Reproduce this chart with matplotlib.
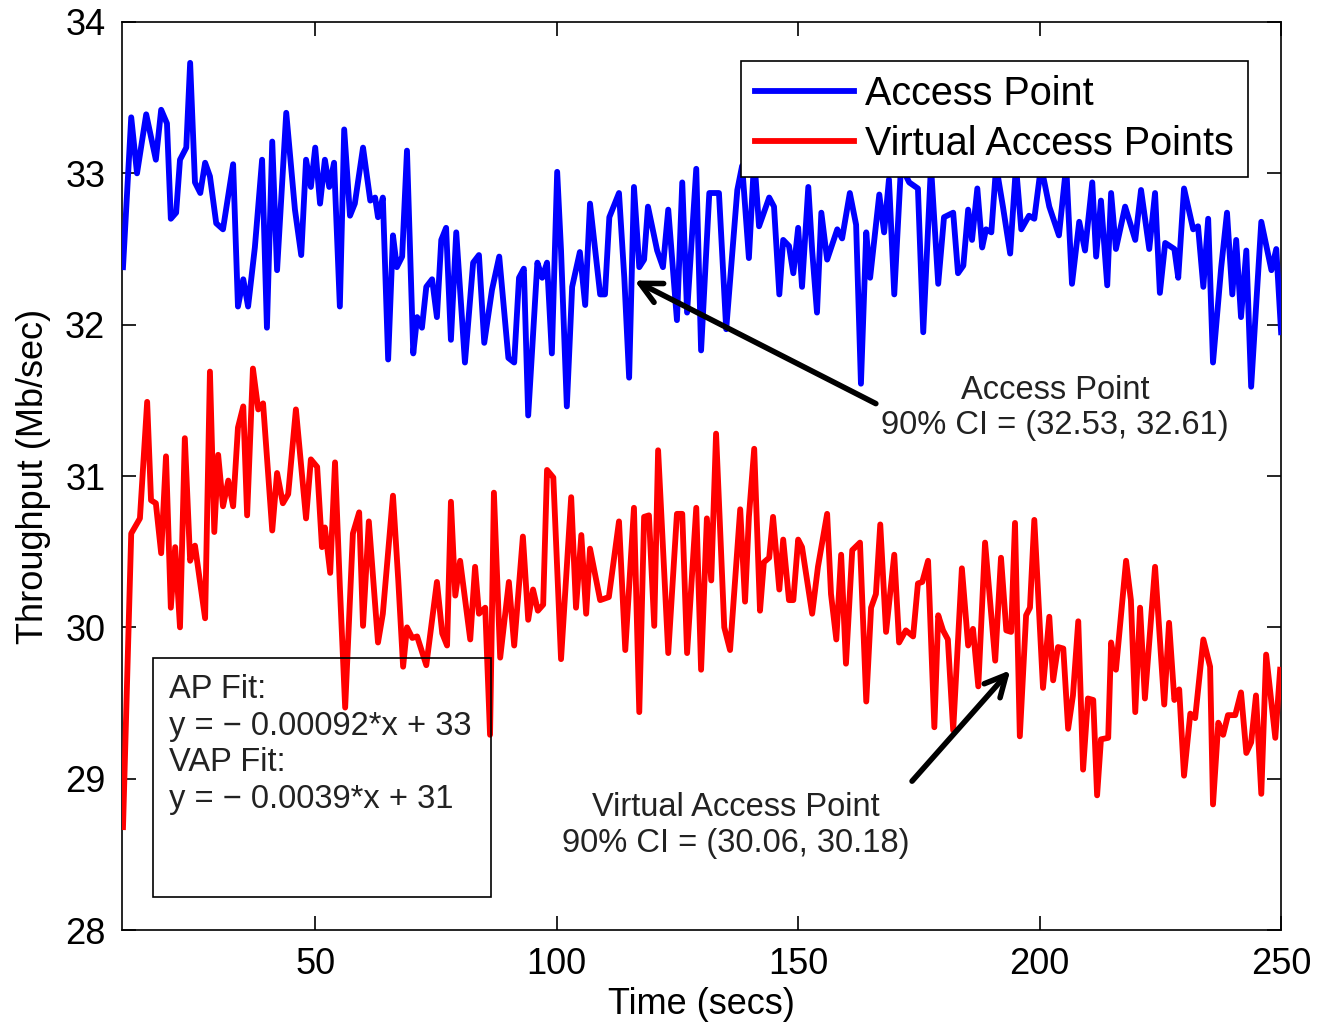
import numpy as np
import matplotlib
matplotlib.use('Agg')
import matplotlib.pyplot as plt
from matplotlib.patches import Rectangle

plt.rcParams['font.family'] = ['Liberation Sans', 'DejaVu Sans']

# Access Point throughput (time in secs, Mb/sec)
ap_t = [10.2, 11.9, 13.1, 15.0, 17.0, 18.1, 19.3, 20.1, 21.2, 22.0, 23.3, 24.1, 25.1, 26.2, 27.2, 28.2,
        29.5, 30.9, 33.0, 34.0, 35.1, 36.1, 37.5, 39.0, 40.0, 41.1, 42.1, 44.0, 45.8, 47.1, 48.1, 49.1,
        50.0, 51.0, 52.0, 52.9, 53.9, 55.1, 56.0, 57.2, 58.2, 59.9, 61.4, 62.4, 63.0, 64.0, 65.1, 66.1,
        66.9, 68.0, 69.0, 70.3, 71.1, 72.1, 73.0, 74.2, 75.2, 76.1, 77.1, 78.1, 79.2, 81.0, 82.7, 83.9,
        85.0, 86.6, 88.1, 90.0, 91.2, 92.2, 93.2, 94.1, 96.0, 97.0, 98.0, 99.0, 100.1, 100.9, 102.1, 103.2,
        104.8, 105.9, 106.9, 109.0, 110.0, 110.9, 112.9, 114.0, 115.0, 116.0, 117.1, 118.1, 118.9, 120.8,
        122.0, 123.1, 124.9, 126.0, 127.0, 128.9, 129.9, 131.6, 133.6, 135.1, 137.4, 138.4, 139.8, 140.9,
        141.9, 144.0, 145.0, 146.1, 146.9, 148.1, 149.0, 150.0, 150.8, 152.1, 152.9, 153.9, 154.8, 156.0,
        158.1, 159.1, 160.7, 162.0, 163.0, 164.1, 164.9, 166.8, 167.8, 168.8, 169.9, 171.3, 173.0, 174.8,
        175.9, 177.5, 179.0, 180.2, 182.1, 183.1, 184.2, 185.2, 186.0, 187.1, 188.1, 188.9, 190.0, 191.0,
        192.4, 193.9, 195.1, 196.2, 197.8, 198.9, 200.3, 202.0, 204.0, 205.5, 206.7, 208.2, 209.4, 210.9,
        211.7, 212.7, 214.0, 214.8, 215.8, 217.7, 219.8, 221.0, 222.7, 223.9, 224.9, 226.0, 227.9, 228.7,
        229.9, 231.8, 232.8, 233.9, 234.9, 235.9, 237.6, 238.8, 239.9, 240.7, 241.7, 242.8, 243.8, 245.9,
        248.0, 249.0, 250.0]
ap_y = [32.38, 33.37, 33.00, 33.39, 33.09, 33.42, 33.33, 32.70, 32.74, 33.09, 33.17, 33.73, 32.94, 32.87, 33.07, 32.98,
        32.67, 32.63, 33.06, 32.12, 32.30, 32.12, 32.51, 33.09, 31.98, 33.21, 32.36, 33.40, 32.76, 32.46, 33.09, 32.91,
        33.17, 32.80, 33.09, 32.91, 33.07, 32.12, 33.29, 32.72, 32.80, 33.17, 32.82, 32.84, 32.71, 32.84, 31.77, 32.59,
        32.38, 32.45, 33.15, 31.81, 32.05, 31.98, 32.25, 32.30, 32.05, 32.56, 32.64, 31.90, 32.61, 31.75, 32.41, 32.46,
        31.88, 32.23, 32.45, 31.78, 31.75, 32.31, 32.37, 31.40, 32.41, 32.31, 32.41, 31.81, 33.01, 32.49, 31.46, 32.25,
        32.48, 32.13, 32.80, 32.20, 32.20, 32.71, 32.87, 32.31, 31.65, 32.91, 32.38, 32.43, 32.78, 32.49,
        32.38, 32.76, 32.03, 32.94, 32.08, 33.03, 31.83, 32.87, 32.87, 31.97, 32.89, 33.05, 32.44, 33.10,
        32.65, 32.84, 32.78, 32.20, 32.56, 32.52, 32.34, 32.64, 32.25, 32.91, 32.49, 32.08, 32.74, 32.43,
        32.63, 32.57, 32.87, 32.66, 31.61, 32.61, 32.31, 32.86, 32.61, 32.96, 32.20, 33.05, 32.94, 32.90,
        31.95, 33.05, 32.27, 32.71, 32.74, 32.34, 32.39, 32.76, 32.56, 32.90, 32.51, 32.63, 32.61, 33.05,
        32.78, 32.47, 33.05, 32.63, 32.72, 32.70, 33.05, 32.78, 32.59, 33.05, 32.27, 32.68, 32.49, 32.94,
        32.45, 32.82, 32.26, 32.87, 32.50, 32.78, 32.56, 32.89, 32.50, 32.87, 32.21, 32.54, 32.50, 32.31,
        32.90, 32.63, 32.65, 32.25, 32.70, 31.75, 32.38, 32.74, 32.20, 32.56, 32.05, 32.49, 31.59, 32.68,
        32.36, 32.50, 31.95]

# Virtual Access Points throughput
vap_t = [10.2, 11.9, 13.7, 15.2, 16.0, 17.0, 18.1, 19.1, 20.1, 21.0, 22.0, 23.0, 24.1, 25.1, 27.2, 28.2,
         29.1, 29.9, 30.9, 32.0, 33.0, 34.0, 35.1, 35.9, 37.1, 38.2, 39.2, 41.1, 42.1, 43.3, 44.4, 46.0,
         48.1, 49.1, 50.4, 51.4, 52.0, 53.1, 54.1, 55.1, 56.2, 57.8, 59.1, 59.9, 61.1, 63.0, 64.0, 66.1,
         67.2, 68.2, 69.0, 70.1, 71.1, 73.0, 74.2, 75.2, 76.3, 77.3, 78.1, 79.0, 80.0, 82.1, 83.1, 83.9,
         85.2, 86.2, 87.0, 88.3, 90.1, 91.2, 93.0, 94.1, 95.1, 96.1, 97.2, 98.0, 99.3, 100.9, 103.0, 104.0,
         105.1, 106.1, 106.9, 109.0, 110.8, 112.9, 114.2, 116.0, 117.1, 118.1, 119.1, 120.2, 121.0, 123.1,
         124.9, 126.0, 127.0, 128.9, 129.9, 131.1, 132.0, 133.0, 134.7, 135.9, 138.0, 139.0, 139.8, 140.9,
         142.1, 142.9, 144.0, 144.8, 146.1, 146.9, 148.1, 149.0, 150.0, 150.8, 152.9, 154.1, 156.0, 156.8,
         157.9, 158.9, 159.9, 161.2, 162.8, 164.1, 165.1, 166.1, 167.0, 168.2, 169.9, 170.9, 172.3, 173.8,
         174.8, 175.7, 176.9, 178.2, 179.0, 180.0, 181.0, 182.1, 183.9, 185.2, 186.2, 187.3, 188.7, 190.8,
         192.0, 193.1, 194.1, 194.9, 195.9, 197.2, 198.0, 198.9, 200.7, 202.0, 202.8, 203.8, 204.9, 205.9,
         206.9, 208.0, 209.0, 210.0, 211.1, 211.9, 212.7, 214.2, 214.8, 215.8, 217.9, 218.9, 219.8, 220.8,
         221.8, 223.9, 225.8, 226.8, 227.9, 228.9, 229.9, 231.2, 232.2, 233.9, 235.3, 235.9, 237.0, 238.0,
         239.0, 240.5, 241.7, 242.8, 243.8, 244.8, 245.9, 246.9, 248.8, 249.8]
vap_y = [28.68, 30.62, 30.72, 31.49, 30.84, 30.82, 30.49, 31.13, 30.13, 30.53, 30.00, 31.25, 30.44, 30.54, 30.06, 31.69,
         30.63, 31.14, 30.80, 30.97, 30.80, 31.32, 31.46, 30.74, 31.71, 31.44, 31.48, 30.64, 31.02, 30.82, 30.88, 31.44,
         30.72, 31.11, 31.06, 30.53, 30.66, 30.36, 31.09, 30.27, 29.47, 30.62, 30.76, 30.01, 30.70, 29.90, 30.09, 30.87,
         30.31, 29.74, 30.00, 29.93, 29.94, 29.75, 30.05, 30.30, 29.96, 29.88, 30.83, 30.21, 30.44, 29.92, 30.40, 30.09,
         30.13, 29.29, 30.89, 29.80, 30.30, 29.88, 30.60, 30.05, 30.25, 30.11, 30.15, 31.04, 30.99, 29.79, 30.86, 30.13,
         30.61, 30.09, 30.52, 30.18, 30.20, 30.70, 29.85, 30.79, 29.44, 30.73, 30.74, 30.01, 31.17, 29.83,
         30.75, 30.75, 29.83, 30.79, 29.72, 30.72, 30.31, 31.28, 30.00, 29.85, 30.78, 30.17, 30.73, 31.18,
         30.11, 30.43, 30.46, 30.73, 30.25, 30.58, 30.18, 30.18, 30.58, 30.53, 30.09, 30.40, 30.75, 30.22,
         29.92, 30.48, 29.76, 30.51, 30.56, 29.51, 30.13, 30.22, 30.68, 29.97, 30.48, 29.90, 29.98, 29.94,
         30.29, 30.30, 30.44, 29.34, 30.08, 29.98, 29.92, 29.32, 30.39, 29.88, 29.99, 29.61, 30.56, 29.78,
         30.46, 29.98, 29.97, 30.69, 29.28, 30.08, 30.13, 30.71, 29.60, 30.07, 29.65, 29.87, 29.86, 29.33,
         29.55, 30.04, 29.06, 29.53, 29.52, 28.89, 29.26, 29.27, 29.90, 29.72, 30.44, 30.18, 29.44, 30.13,
         29.53, 30.40, 29.49, 30.03, 29.52, 29.59, 29.02, 29.43, 29.40, 29.92, 29.74, 28.83, 29.37, 29.29,
         29.42, 29.42, 29.57, 29.17, 29.24, 29.55, 28.90, 29.82, 29.27, 29.72]

x_ticks = [50, 100, 150, 200, 250]
y_ticks = [28, 29, 30, 31, 32, 33, 34]

fig = plt.figure(figsize=(13.18, 10.28), dpi=100)
ax = fig.add_axes([0.0926, 0.0953, 0.8794, 0.8833])

ax.plot(ap_t, ap_y, color='#0000ff', lw=4.2, label='Access Point', zorder=3)
ax.plot(vap_t, vap_y, color='#ff0000', lw=4.2, label='Virtual Access Points', zorder=3)

ax.set_xlim(10, 250)
ax.set_ylim(28, 34)
ax.set_xticks(x_ticks)
ax.set_yticks(y_ticks)
ax.tick_params(direction='in', length=10, width=1.2, labelsize=26, top=True, right=True, pad=12)
for s in ax.spines.values():
    s.set_linewidth(1.2)

ax.set_xlabel('Time (secs)', fontsize=26, labelpad=4)
ax.set_ylabel('Throughput (Mb/sec)', fontsize=26, labelpad=10)

leg = ax.legend(loc='upper right', bbox_to_anchor=(0.9715, 0.957), borderaxespad=0,
                fontsize=28.5, handlelength=2.5, handletextpad=0.3, labelspacing=0.3,
                fancybox=False, framealpha=1, edgecolor='black', borderpad=0.35)
leg.get_frame().set_linewidth(1.2)
leg.set_zorder(5)

# annotations
ax.annotate('', xy=(115.6, 32.30), xytext=(166.6, 31.47),
            arrowprops=dict(arrowstyle='->', lw=4, color='black', mutation_scale=38))
ax.text(203.2, 31.45, 'Access Point\n90% CI = (32.53, 32.61)', fontsize=23.5, color='#222222',
        ha='center', va='center', linespacing=1.2)

ax.annotate('', xy=(194.3, 29.73), xytext=(173.2, 28.97),
            arrowprops=dict(arrowstyle='->', lw=4, color='black', mutation_scale=38))
ax.text(137.1, 28.69, 'Virtual Access Point\n90% CI = (30.06, 30.18)', fontsize=23.5, color='#222222',
        ha='center', va='center', linespacing=1.2)

ax.add_patch(Rectangle((16.4, 28.22), 70.0, 1.58, fill=False, edgecolor='black', lw=1.2, zorder=4))
ax.text(19.8, 29.69, 'AP Fit:\ny = \u2212 0.00092*x + 33\nVAP Fit:\ny = \u2212 0.0039*x + 31',
        fontsize=23.5, color='#222222', ha='left', va='top', linespacing=1.23)

fig.savefig('out.png', dpi=100)
